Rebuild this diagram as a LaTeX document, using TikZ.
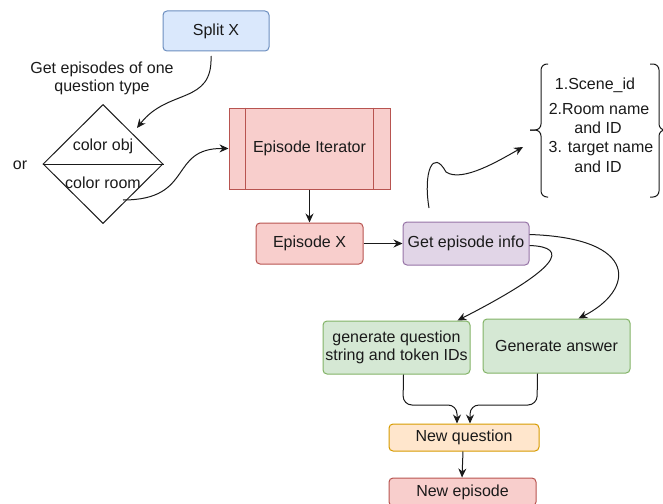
\documentclass[tikz,border=0pt]{standalone}
\usepackage{fontspec}
\setmainfont{Liberation Sans}
\usetikzlibrary{arrows.meta,shapes.geometric}
\definecolor{bluefill}{HTML}{DAE8FC}\definecolor{bluedraw}{HTML}{6C8EBF}
\definecolor{redfill}{HTML}{F8CECC}\definecolor{reddraw}{HTML}{B85450}
\definecolor{purplefill}{HTML}{E1D5E7}\definecolor{purpledraw}{HTML}{9673A6}
\definecolor{greenfill}{HTML}{D5E8D4}\definecolor{greendraw}{HTML}{82B366}
\definecolor{orangefill}{HTML}{FFE6CC}\definecolor{orangedraw}{HTML}{D79B00}
\definecolor{ink}{HTML}{1A1A1A}
\tikzset{
  txt/.style={font=\fontsize{16}{18}\selectfont, text=ink, align=center, inner sep=0pt},
  box/.style={txt, draw, rounded corners=4pt, line width=1pt},
  bluebox/.style={box, fill=bluefill, draw=bluedraw},
  redbox/.style={box, fill=redfill, draw=reddraw},
  purplebox/.style={box, fill=purplefill, draw=purpledraw},
  greenbox/.style={box, fill=greenfill, draw=greendraw},
  orangebox/.style={box, fill=orangefill, draw=orangedraw},
  arr/.style={-{Stealth[length=9pt,width=8pt]}, line width=1pt, draw=ink},
  plain/.style={line width=1pt, draw=ink}
}
\begin{document}
\begin{tikzpicture}[x=1pt,y=-1pt]
\useasboundingbox (0,0) rectangle (663,503);

% main boxes
\node[bluebox, minimum width=106pt, minimum height=40pt] (split) at (216,31) {Split X};
\node[redbox, rounded corners=0pt, minimum width=161pt, minimum height=81pt] (iter) at (309.5,148.5) {Episode Iterator};
\draw[line width=1pt, draw=reddraw] ([xshift=17pt]iter.north west) -- ([xshift=17pt]iter.south west);
\draw[line width=1pt, draw=reddraw] ([xshift=-17pt]iter.north east) -- ([xshift=-17pt]iter.south east);
\node[redbox, minimum width=107pt, minimum height=41pt] (epx) at (309.5,243.5) {Episode X};
\node[purplebox, minimum width=126pt, minimum height=43pt] (info) at (466,243.5) {Get episode info};
\node[greenbox, minimum width=147pt, minimum height=53pt] (genq) at (396.5,347.5) {generate question\\string and token IDs};
\node[greenbox, minimum width=147pt, minimum height=54pt] (gena) at (556.5,346) {Generate answer};
\node[orangebox, minimum width=150pt, minimum height=27pt] (newq) at (464,437.5) {New question};
\node[redbox, minimum width=147pt, minimum height=28pt] (newe) at (462.5,492) {New episode};

% decision diamond
\node[shape=diamond, draw=ink, line width=1pt, minimum width=120pt, minimum height=119pt, inner sep=0pt] (dia) at (103,164) {};
\draw[plain] (dia.west) -- (dia.east);
\node[txt] (cobj) at (103,146) {color obj};
\node[txt] (croom) at (103,183) {color room};
\node[txt] (orlbl) at (20,165) {or};
\node[txt] (getlbl) at (102,78) {Get episodes of one\\question type};

% info list between braces
\node[txt] (l1) at (595,85) {1.Scene\_id};
\node[txt] (l2) at (599,109) {2.Room name};
\node[txt] (l2b) at (598,128) {and ID};
\node[txt] (l3) at (601,149) {3. target name};
\node[txt] (l3b) at (598,167) {and ID};
\draw[plain, rounded corners=6pt] (548,64) -- (541,64) -- (541,130) -- (530,130);
\draw[plain, rounded corners=6pt] (530,130) -- (541,130) -- (541,197) -- (548,197);
\draw[plain, rounded corners=6pt] (650,64) -- (659,64) -- (659,130) -- (668,130);
\draw[plain, rounded corners=6pt] (668,130) -- (659,130) -- (659,197) -- (650,197);
\coordinate (brace) at (523,147);

% connectors
\coordinate (splitout) at (211,56);
\coordinate (diatip) at (137,128);
\draw[arr] (splitout) .. controls (213,105) and (168,88) .. (diatip);

\coordinate (diaout) at (123,200);
\draw[arr] (diaout) .. controls (195,200) and (168,148) .. (iter.west);

\draw[arr] (iter.south) -- (epx.north);
\draw[arr] (epx.east) -- (info.west);

\coordinate (infotop) at (429,208);
\draw[arr] (infotop) .. controls (423,172) and (433,148) .. (446,172)
                     .. controls (462,183) and (500,160) .. (brace);

\draw[arr] ([yshift=9pt]info.east) .. controls (640,238) and (635,290) .. ([xshift=22pt]gena.north);
\draw[arr] ([yshift=-2pt]info.east) .. controls (570,247) and (560,268) .. ([xshift=61pt]genq.north);

\draw[arr, rounded corners=9pt] ([xshift=7pt]genq.south) -- (403,405) -- (457,405) -- ([xshift=-7pt]newq.north);
\draw[arr, rounded corners=9pt] ([xshift=-19pt]gena.south) -- (537,405) -- (470,405) -- ([xshift=6pt]newq.north);

\draw[arr] ([xshift=-1pt]newq.south) -- ([xshift=-0.5pt]newe.north);
\end{tikzpicture}
\end{document}
